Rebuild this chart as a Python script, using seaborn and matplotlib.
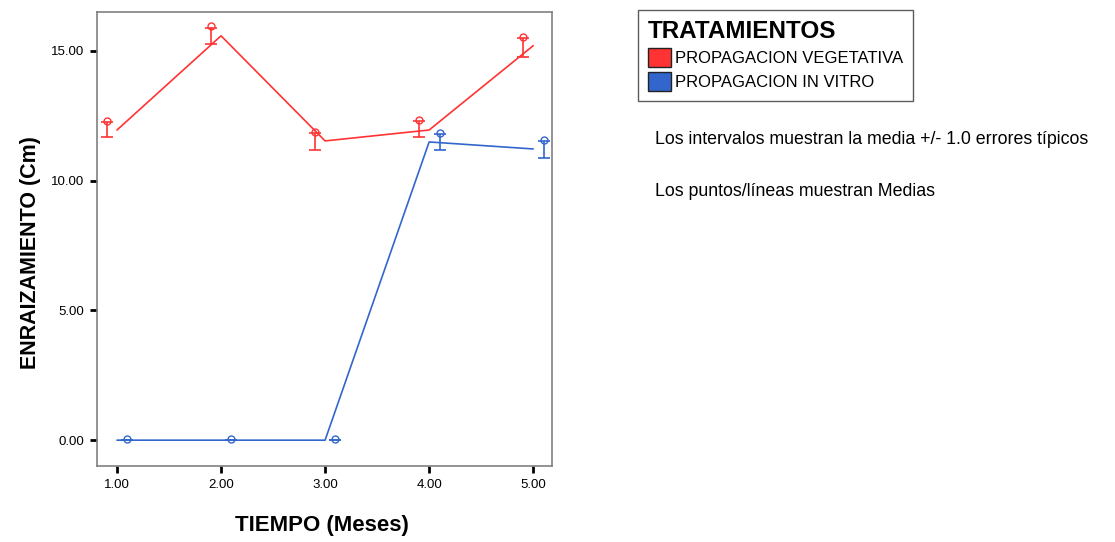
import numpy as np
import pandas as pd
import matplotlib
matplotlib.use('Agg')
from matplotlib import pyplot as plt
from matplotlib.patches import Patch
import seaborn as sns

# Datos
meses = [1, 2, 3, 4, 5]
vegetativa = [11.95, 15.58, 11.53, 11.95, 15.20]
in_vitro = [0.0, 0.0, 0.0, 11.49, 11.22]
# medias y errores tipicos de los intervalos
veg_media_ic = [11.97, 15.58, 11.51, 11.99, 15.14]
veg_se = [0.29, 0.31, 0.33, 0.31, 0.36]
vit_media_ic = [0.0, 0.0, 0.0, 11.49, 11.20]
vit_se = [0.0, 0.0, 0.0, 0.30, 0.33]

grupos = ['PROPAGACION VEGETATIVA', 'PROPAGACION IN VITRO']
colores = ['#FF3333', '#3366CC']

df = pd.DataFrame({
    'TIEMPO': meses * 2,
    'ENRAIZAMIENTO': vegetativa + in_vitro,
    'TRATAMIENTO': [grupos[0]] * 5 + [grupos[1]] * 5,
})

sns.set_style('white')
plt.rcParams['font.family'] = ['Liberation Sans', 'DejaVu Sans']
plt.rcParams['text.color'] = 'black'
plt.rcParams['axes.labelcolor'] = 'black'
plt.rcParams['xtick.color'] = 'black'
plt.rcParams['ytick.color'] = 'black'

fig = plt.figure(figsize=(11.15, 5.42), dpi=100)
ax = fig.add_axes([0.087, 0.140, 0.408, 0.838])

sns.lineplot(data=df, x='TIEMPO', y='ENRAIZAMIENTO', hue='TRATAMIENTO',
             palette=colores, linewidth=1.2, legend=False, ax=ax)

# intervalos desplazados a cada lado
for medias, se, col, dx in [(veg_media_ic, veg_se, colores[0], -0.1),
                            (vit_media_ic, vit_se, colores[1], 0.1)]:
    xs = np.array(meses) + dx
    ax.errorbar(xs, medias, yerr=se, fmt='none', ecolor=col,
                elinewidth=1.2, capsize=4, capthick=1.2)
    ax.plot(xs, np.array(medias) + np.array(se) + 0.05, linestyle='none',
            marker='o', markersize=5, markerfacecolor='none',
            markeredgecolor=col, markeredgewidth=1.0)

ax.set_xlim(0.808, 5.18)
ax.set_ylim(-1.0, 16.5)
ax.set_xticks(meses)
ax.set_xticklabels([f'{m:.2f}' for m in meses])
ax.set_yticks([0, 5, 10, 15])
ax.set_yticklabels(['0.00', '5.00', '10.00', '15.00'])
ax.tick_params(axis='both', which='both', direction='out', length=5, width=2,
               color='black', labelsize=9.5, bottom=True, left=True, pad=4)
for s in ax.spines.values():
    s.set_color('#808080')
    s.set_linewidth(1.2)

ax.set_xlabel('TIEMPO (Meses)', fontsize=16, fontweight='bold')
ax.set_ylabel('ENRAIZAMIENTO (Cm)', fontsize=15.5, fontweight='bold')
ax.xaxis.set_label_coords(0.495, -0.108)
ax.yaxis.set_label_coords(-0.124, 0.47)

handles = [Patch(facecolor=c, edgecolor='#222222', linewidth=1.0) for c in colores]
leg = fig.legend(handles, grupos, title='TRATAMIENTOS', loc='upper left',
                 bbox_to_anchor=(0.572, 0.982), frameon=True, fancybox=False,
                 fontsize=12, handlelength=1.4, handleheight=1.4,
                 handletextpad=0.25, borderpad=0.6, labelspacing=0.3,
                 borderaxespad=0)
leg.get_title().set_fontsize(17.5)
leg.get_title().set_fontweight('bold')
leg._legend_box.align = 'left'
leg.get_frame().set_edgecolor('#333333')
leg.get_frame().set_linewidth(1.0)

fig.text(0.587, 0.742, 'Los intervalos muestran la media +/- 1.0 errores típicos',
         fontsize=12.8, va='center')
fig.text(0.587, 0.646, 'Los puntos/líneas muestran Medias', fontsize=12.8,
         va='center')

fig.savefig('out.png', dpi=100)
